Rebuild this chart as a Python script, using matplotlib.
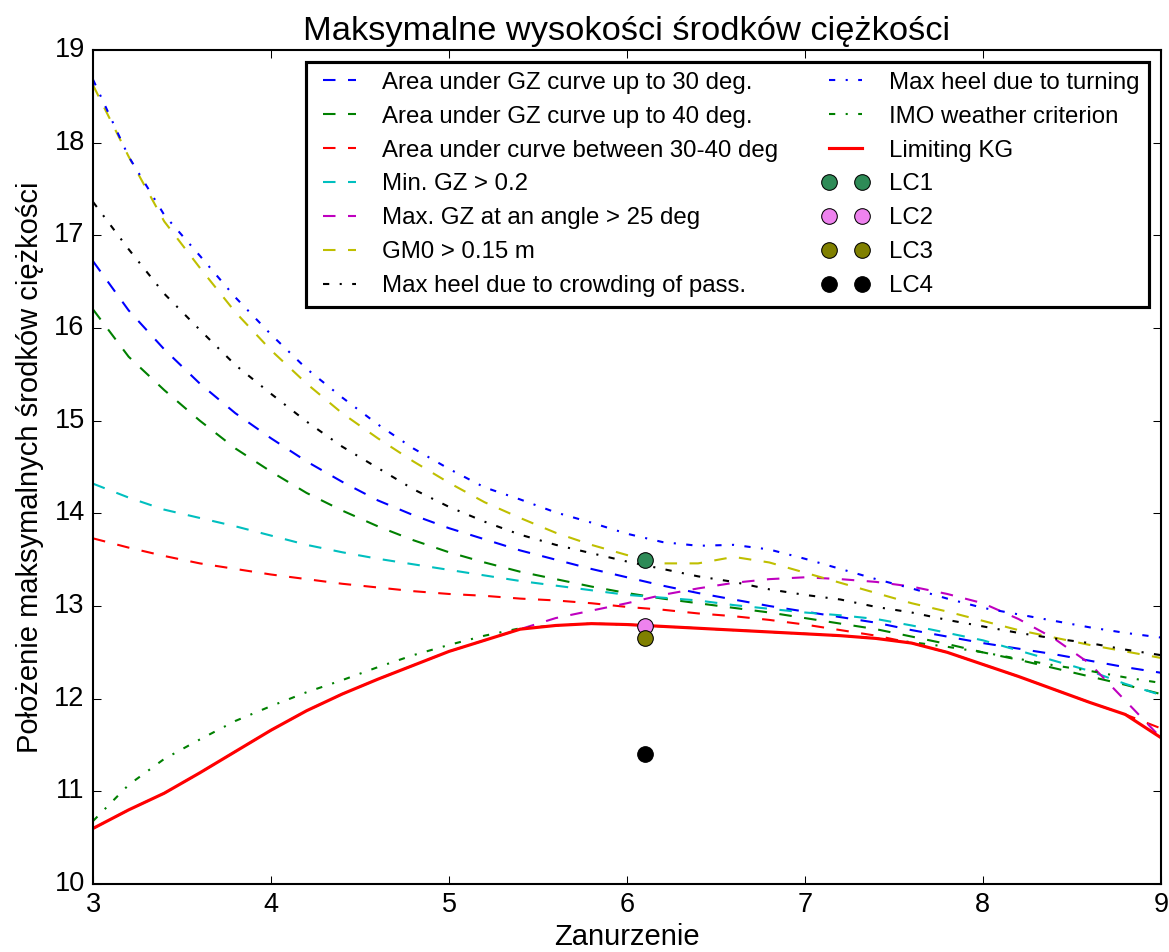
import numpy as np
import matplotlib
matplotlib.use("Agg")
import matplotlib.pyplot as plt

plt.style.use("classic")
plt.rcParams["font.family"] = ["Liberation Sans", "DejaVu Sans"]

# draught grid (Zanurzenie)
draught = np.round(np.arange(3.0, 9.01, 0.2), 1)

area_30 = [16.72, 16.19, 15.77, 15.40, 15.08, 14.81, 14.56, 14.34, 14.14, 13.98,
           13.84, 13.72, 13.60, 13.50, 13.40, 13.31, 13.22, 13.14, 13.07, 13.00,
           12.94, 12.88, 12.82, 12.74, 12.67, 12.60, 12.54, 12.48, 12.41, 12.34, 12.28]
area_40 = [16.20, 15.69, 15.33, 15.00, 14.70, 14.45, 14.22, 14.03, 13.86, 13.71,
           13.58, 13.47, 13.37, 13.29, 13.21, 13.14, 13.08, 13.03, 12.98, 12.93,
           12.87, 12.81, 12.75, 12.67, 12.59, 12.50, 12.42, 12.33, 12.24, 12.15, 12.05]
area_30_40 = [13.73, 13.63, 13.54, 13.46, 13.40, 13.34, 13.29, 13.24, 13.20, 13.16,
              13.13, 13.11, 13.08, 13.06, 13.03, 12.99, 12.96, 12.92, 12.89, 12.85,
              12.80, 12.74, 12.68, 12.60, 12.50, 12.37, 12.24, 12.10, 11.96, 11.83, 11.68]
min_gz = [14.32, 14.17, 14.04, 13.95, 13.86, 13.76, 13.66, 13.58, 13.51, 13.45,
          13.39, 13.33, 13.27, 13.22, 13.17, 13.12, 13.09, 13.06, 13.01, 12.97,
          12.93, 12.90, 12.86, 12.79, 12.71, 12.63, 12.52, 12.41, 12.30, 12.16, 12.04]
max_gz_angle = [10.60, 10.80, 10.98, 11.20, 11.43, 11.66, 11.87, 12.05, 12.21, 12.36,
                12.51, 12.63, 12.75, 12.87, 12.95, 13.03, 13.12, 13.19, 13.25, 13.29,
                13.31, 13.29, 13.26, 13.21, 13.13, 13.03, 12.86, 12.65, 12.38, 11.98, 11.58]
gm0 = [18.62, 17.85, 17.15, 16.65, 16.17, 15.76, 15.40, 15.08, 14.81, 14.56,
       14.33, 14.12, 13.95, 13.79, 13.66, 13.55, 13.46, 13.46, 13.53, 13.47,
       13.36, 13.25, 13.14, 13.03, 12.94, 12.84, 12.74, 12.66, 12.58, 12.51, 12.44]
heel_crowding = [17.36, 16.85, 16.37, 15.98, 15.60, 15.29, 14.99, 14.72, 14.49, 14.26,
                 14.07, 13.91, 13.77, 13.66, 13.57, 13.48, 13.40, 13.32, 13.26, 13.18,
                 13.12, 13.07, 12.99, 12.93, 12.85, 12.78, 12.71, 12.65, 12.60, 12.53, 12.47]
heel_turning = [18.68, 17.85, 17.22, 16.78, 16.33, 15.93, 15.56, 15.25, 14.96, 14.70,
                14.48, 14.28, 14.15, 14.01, 13.90, 13.78, 13.69, 13.65, 13.66, 13.61,
                13.51, 13.40, 13.29, 13.19, 13.08, 12.98, 12.91, 12.84, 12.77, 12.71, 12.66]
imo_weather = [10.68, 11.07, 11.35, 11.56, 11.76, 11.92, 12.07, 12.20, 12.34, 12.47,
               12.58, 12.68, 12.76, 12.79, 12.81, 12.80, 12.78, 12.76, 12.74, 12.72,
               12.70, 12.68, 12.65, 12.61, 12.56, 12.50, 12.43, 12.36, 12.30, 12.23, 12.17]

criteria = [
    (area_30, "b--", "Area under GZ curve up to 30 deg."),
    (area_40, "g--", "Area under GZ curve up to 40 deg."),
    (area_30_40, "r--", "Area under curve between 30-40 deg"),
    (min_gz, "c--", "Min. GZ > 0.2"),
    (max_gz_angle, "m--", "Max. GZ at an angle > 25 deg"),
    (gm0, "y--", "GM0 > 0.15 m"),
    (heel_crowding, "k-.", "Max heel due to crowding of pass."),
    (heel_turning, "b-.", "Max heel due to turning"),
    (imo_weather, "g-.", "IMO weather criterion"),
]
limiting_kg = np.min([c[0] for c in criteria], axis=0)

# load cases
lc_names = ["LC1", "LC2", "LC3", "LC4"]
lc_draught = [6.1, 6.1, 6.1, 6.1]
lc_kg = [13.5, 12.78, 12.65, 11.4]
lc_colors = ["#2E8B57", "#EE82EE", "#808000", "black"]

fig = plt.figure(figsize=(1169 / 150, 952 / 150), dpi=150)
ax = fig.add_axes([0.0796, 0.0714, 0.9134, 0.8761])

for vals, style, label in criteria:
    ax.plot(draught, vals, style, label=label)
ax.plot(draught, limiting_kg, "r-", lw=1.5, label="Limiting KG")
for name, x, y, col in zip(lc_names, lc_draught, lc_kg, lc_colors):
    ax.plot(x, y, "o", color=col, markersize=7.5, label=name)

ax.set_xlim(3, 9)
ax.set_ylim(10, 19)
ax.set_title("Maksymalne wysokości środków ciężkości", fontsize=16.5)
ax.set_xlabel("Zanurzenie", fontsize=14, labelpad=2)
ax.set_ylabel("Położenie maksymalnych środków ciężkości", fontsize=14)
ax.tick_params(labelsize=13)
leg = ax.legend(loc="upper right", ncol=2, fontsize=11.5, numpoints=2,
                handletextpad=0.8, columnspacing=1.8)
leg.get_frame().set_linewidth(1.5)

fig.savefig("out.png", dpi=150)
